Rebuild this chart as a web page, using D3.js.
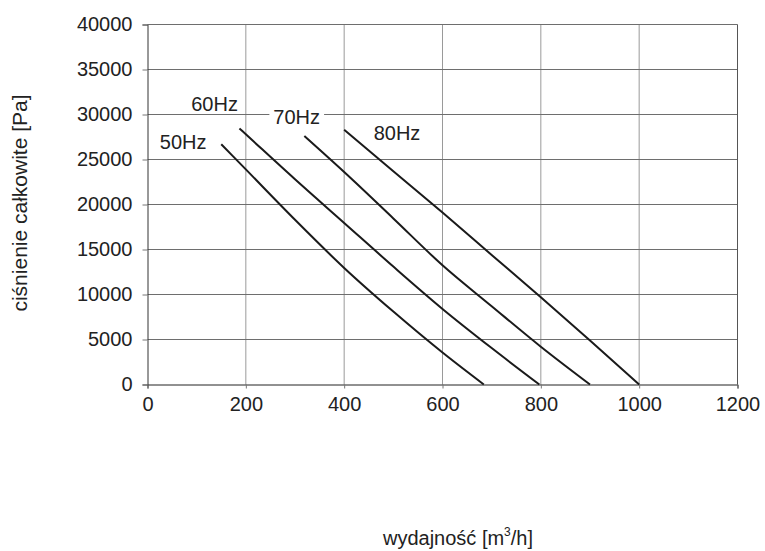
<!DOCTYPE html>
<html>
<head>
<meta charset="utf-8">
<script src="https://cdn.jsdelivr.net/npm/d3@7"></script>
<style>
  html, body { margin: 0; padding: 0; background: #fff; }
  svg { display: block; }
  text { font-family: Arial, "Liberation Sans", sans-serif; fill: #222; }
</style>
</head>
<body>
<div id="chart"></div>
<script>
// ---- data ----
const xTicks = [0, 200, 400, 600, 800, 1000, 1200];
const yTicks = [0, 5000, 10000, 15000, 20000, 25000, 30000, 35000, 40000];
const seriesNames = ["50Hz", "60Hz", "70Hz", "80Hz"];
const curve50 = [[150, 26700], [200, 23900], [300, 18300], [400, 12950], [500, 8100], [600, 3550], [684, 0]];
const curve60 = [[187, 28450], [200, 27800], [300, 22800], [400, 17950], [500, 13100], [600, 8400], [700, 4050], [797, 0]];
const curve70 = [[319, 27600], [400, 23600], [500, 18450], [600, 13250], [700, 8700], [800, 4200], [900, 0]];
const curve80 = [[400, 28300], [500, 23700], [600, 19100], [700, 14400], [800, 9700], [900, 4900], [1000, 0]];
const curves = [curve50, curve60, curve70, curve80];
const xTitle = "wydajność [m";
const xTitleSup = "3";
const xTitleEnd = "/h]";
const yTitle = "ciśnienie całkowite [Pa]";

// ---- layout ----
const W = 765, H = 551;
const x = d3.scaleLinear().domain([0, 1200]).range([147.5, 737.5]);
const y = d3.scaleLinear().domain([0, 40000]).range([384.5, 24.5]);

const svg = d3.select("#chart").append("svg").attr("width", W).attr("height", H);

// vertical grid
svg.append("g").selectAll("line").data(xTicks.slice(1, -1)).join("line")
  .attr("x1", d => x(d)).attr("x2", d => x(d))
  .attr("y1", y(0)).attr("y2", y(40000))
  .attr("stroke", "#9a9a9a").attr("stroke-width", 1);

// horizontal grid
svg.append("g").selectAll("line").data(yTicks.slice(1)).join("line")
  .attr("x1", x(0)).attr("x2", x(1200))
  .attr("y1", d => y(d)).attr("y2", d => y(d))
  .attr("stroke", "#6e6e6e").attr("stroke-width", 1);

// right border
svg.append("line").attr("x1", x(1200)).attr("x2", x(1200))
  .attr("y1", y(0)).attr("y2", y(40000)).attr("stroke", "#555").attr("stroke-width", 1);

// axes
const yAxis = d3.axisLeft(y).tickValues(yTicks).tickSize(5).tickPadding(10).tickFormat(d3.format("d"));
const gy = svg.append("g").attr("transform", `translate(${x(0)},0)`).call(yAxis);
gy.select(".domain").attr("stroke", "#333");
gy.selectAll(".tick line").attr("stroke", "#777");
gy.selectAll(".tick text").attr("font-size", 20).attr("fill", "#111")
  .attr("font-family", "Arial, 'Liberation Sans', sans-serif");

const xAxis = d3.axisBottom(x).tickValues(xTicks).tickSize(4).tickPadding(8).tickFormat(d3.format("d"));
const gx = svg.append("g").attr("transform", `translate(0,${y(0)})`).call(xAxis);
gx.select(".domain").attr("stroke", "#222");
gx.selectAll(".tick line").attr("stroke", "#777");
gx.selectAll(".tick text").attr("font-size", 20).attr("fill", "#111")
  .attr("font-family", "Arial, 'Liberation Sans', sans-serif");

// curves
const line = d3.line().x(d => x(d[0])).y(d => y(d[1])).curve(d3.curveMonotoneX);
svg.append("g").selectAll("path").data(curves).join("path")
  .attr("d", line).attr("fill", "none").attr("stroke", "#1a1a1a").attr("stroke-width", 2);

// series labels (anchored in data units)
const labelAnchors = [[25, 26200], [89, 30400], [256, 29000], [460, 27150]];
const lg = svg.append("g");
seriesNames.forEach((name, i) => {
  const g = lg.append("g");
  const t = g.append("text")
    .attr("x", x(labelAnchors[i][0])).attr("y", y(labelAnchors[i][1]))
    .attr("font-size", 20).text(name);
  if (i === 2) {
    const bb = t.node().getBBox();
    g.insert("rect", "text").attr("x", bb.x - 4).attr("y", bb.y)
      .attr("width", bb.width + 8).attr("height", bb.height).attr("fill", "#fff");
  }
});

// axis titles
const xt = svg.append("text").attr("x", 458).attr("y", 545)
  .attr("text-anchor", "middle").attr("font-size", 20);
xt.append("tspan").text(xTitle);
xt.append("tspan").attr("font-size", 12).attr("dy", -9).text(xTitleSup);
xt.append("tspan").attr("dy", 9).text(xTitleEnd);

svg.append("text").attr("transform", "translate(27,203) rotate(-90)")
  .attr("text-anchor", "middle").attr("font-size", 21).text(yTitle);
</script>
</body>
</html>
